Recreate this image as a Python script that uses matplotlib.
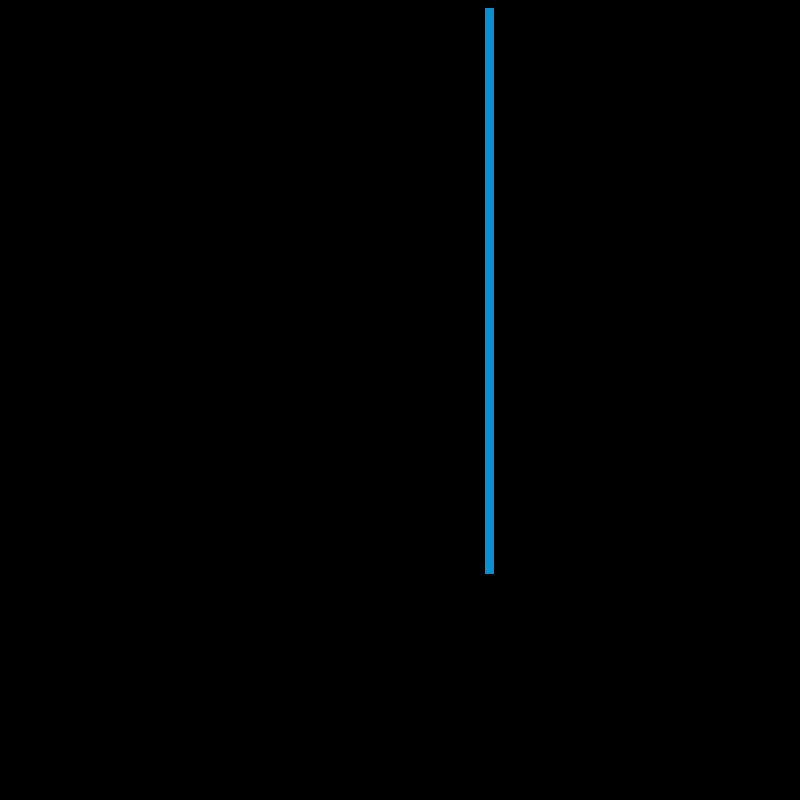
import matplotlib
matplotlib.use('Agg')
import matplotlib.pyplot as plt

# Single-bar chart on a black background
categories = ['A']
values = [566]

fig = plt.figure(figsize=(8, 8), dpi=100, facecolor='black')
ax = fig.add_axes([0, 226 / 800, 1, 566 / 800])
ax.set_facecolor('black')

ax.bar(categories, values, width=1.0, color='#0a8fd3')
ax.set_xlim(-489.5 / 9, (800 - 489.5) / 9)
ax.set_ylim(0, max(values))
ax.axis('off')

fig.savefig('out.png', facecolor='black')
